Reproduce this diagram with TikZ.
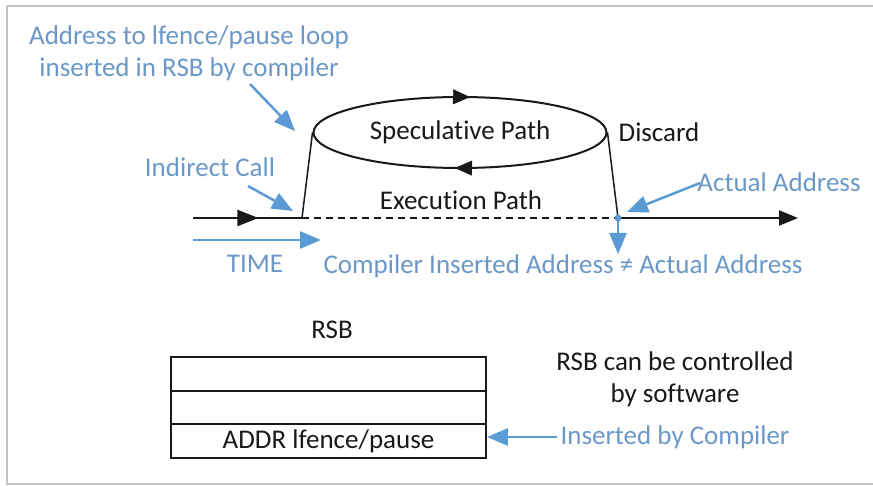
\documentclass[tikz,border=0pt]{standalone}
\usepackage{fontspec}
\setmainfont{Carlito}[Ligatures={NoCommon}]
\usetikzlibrary{arrows.meta,decorations.markings,shapes.geometric}
\definecolor{txtblue}{RGB}{108,152,200}
\definecolor{arrblue}{RGB}{91,155,213}
\definecolor{framegrey}{RGB}{195,195,195}
\definecolor{ink}{RGB}{25,25,25}
\begin{document}
\begin{tikzpicture}[x=1pt,y=-1pt,
  every node/.style={font=\fontsize{27}{32}\selectfont},
  lbl/.style={text=txtblue, align=center},
  blk/.style={text=ink, align=center},
  barrow/.style={draw=arrblue, line width=2.5pt, -{Triangle[length=21pt,width=17pt]}},
  tline/.style={draw=ink, line width=2.3pt},
  cell/.style={draw=ink, line width=1.8pt, minimum width=315pt, minimum height=33.7pt, inner sep=0pt, anchor=north},
  midarrow/.style={decoration={markings, mark=at position #1 with {\arrow{Triangle[length=21pt,width=16pt]}}}, postaction={decorate}}]

  % canvas and frame
  \useasboundingbox (0,0) rectangle (873,486);
  \fill[white] (0,0) rectangle (873,486);
  \draw[framegrey, line width=1.6pt] (873,6) -- (7,6) -- (7,484) -- (873,484);

  % speculative loop
  \node[draw=ink, ellipse, line width=2pt, minimum width=293pt, minimum height=71pt, inner sep=0pt, text=ink] (spec) at (460,132.5) {Speculative Path};
  \path[draw=none, ink, decoration={markings,
      mark=at position 0.258 with {\arrow{Triangle[length=17pt,width=15pt]}},
      mark=at position 0.766 with {\arrow{Triangle[length=17pt,width=15pt]}}},
      postaction={decorate}] (spec.center) ellipse [x radius=146.5, y radius=35.5];

  % time line
  \coordinate (t0) at (193,218);
  \coordinate (callpt) at (302,218);
  \coordinate (retpt) at (618,218);
  \coordinate (tend) at (798,218);
  \draw[tline, midarrow=0.6] (t0) -- (callpt);
  \draw[tline, dash pattern=on 7pt off 5pt] (callpt) -- (retpt);
  \draw[tline, -{Triangle[length=19pt,width=15pt]}] (retpt) -- (tend);
  \draw[draw=ink, line width=1.5pt] (spec.west) -- (callpt);
  \draw[draw=ink, line width=1.5pt] (spec.east) -- (retpt);

  % black labels
  \node[blk] (disc) at (659,132) {Discard};
  \node[blk] (exec) at (461,200) {Execution Path};

  % blue labels and pointers
  \node[lbl] (addr) at (189,53) {Address to lfence/pause loop\\inserted in RSB by compiler};
  \coordinate (a1s) at (250,84);
  \coordinate (a1e) at (295,131);
  \draw[barrow] (a1s) -- (a1e);

  \node[lbl] (icall) at (210,167) {Indirect Call};
  \coordinate (a2s) at (248,186);
  \coordinate (a2e) at (293,211);
  \draw[barrow] (a2s) -- (a2e);

  \node[lbl] (act) at (779,182) {Actual Address};
  \coordinate (a3s) at (700,183);
  \coordinate (a3e) at (627,212);
  \draw[barrow] (a3s) -- (a3e);

  \coordinate (time0) at (193,240);
  \coordinate (time1) at (321,240);
  \draw[barrow] (time0) -- (time1);
  \node[lbl] (timelbl) at (255,264) {TIME};

  \coordinate (down) at (618,254);
  \draw[barrow] (retpt) -- (down);
  \fill[arrblue] (retpt) circle (3.5pt);
  \node[lbl] (neq) at (563,266) {Compiler Inserted Address ≠ Actual Address};

  % return stack buffer
  \node[blk] (rsb) at (332,330) {RSB};
  \node[cell] (r1) at (328.5,356) {};
  \node[cell] (r2) at (328.5,389.7) {};
  \node[cell, text=ink] (r3) at (328.5,423.4) {ADDR lfence/pause};

  \node[blk] (ctrl) at (675,379) {RSB can be controlled\\by software};
  \node[lbl] (ins) at (675,437) {Inserted by Compiler};
  \draw[barrow] (ins.west) -- (ins.west -| r3.east);
\end{tikzpicture}
\end{document}
